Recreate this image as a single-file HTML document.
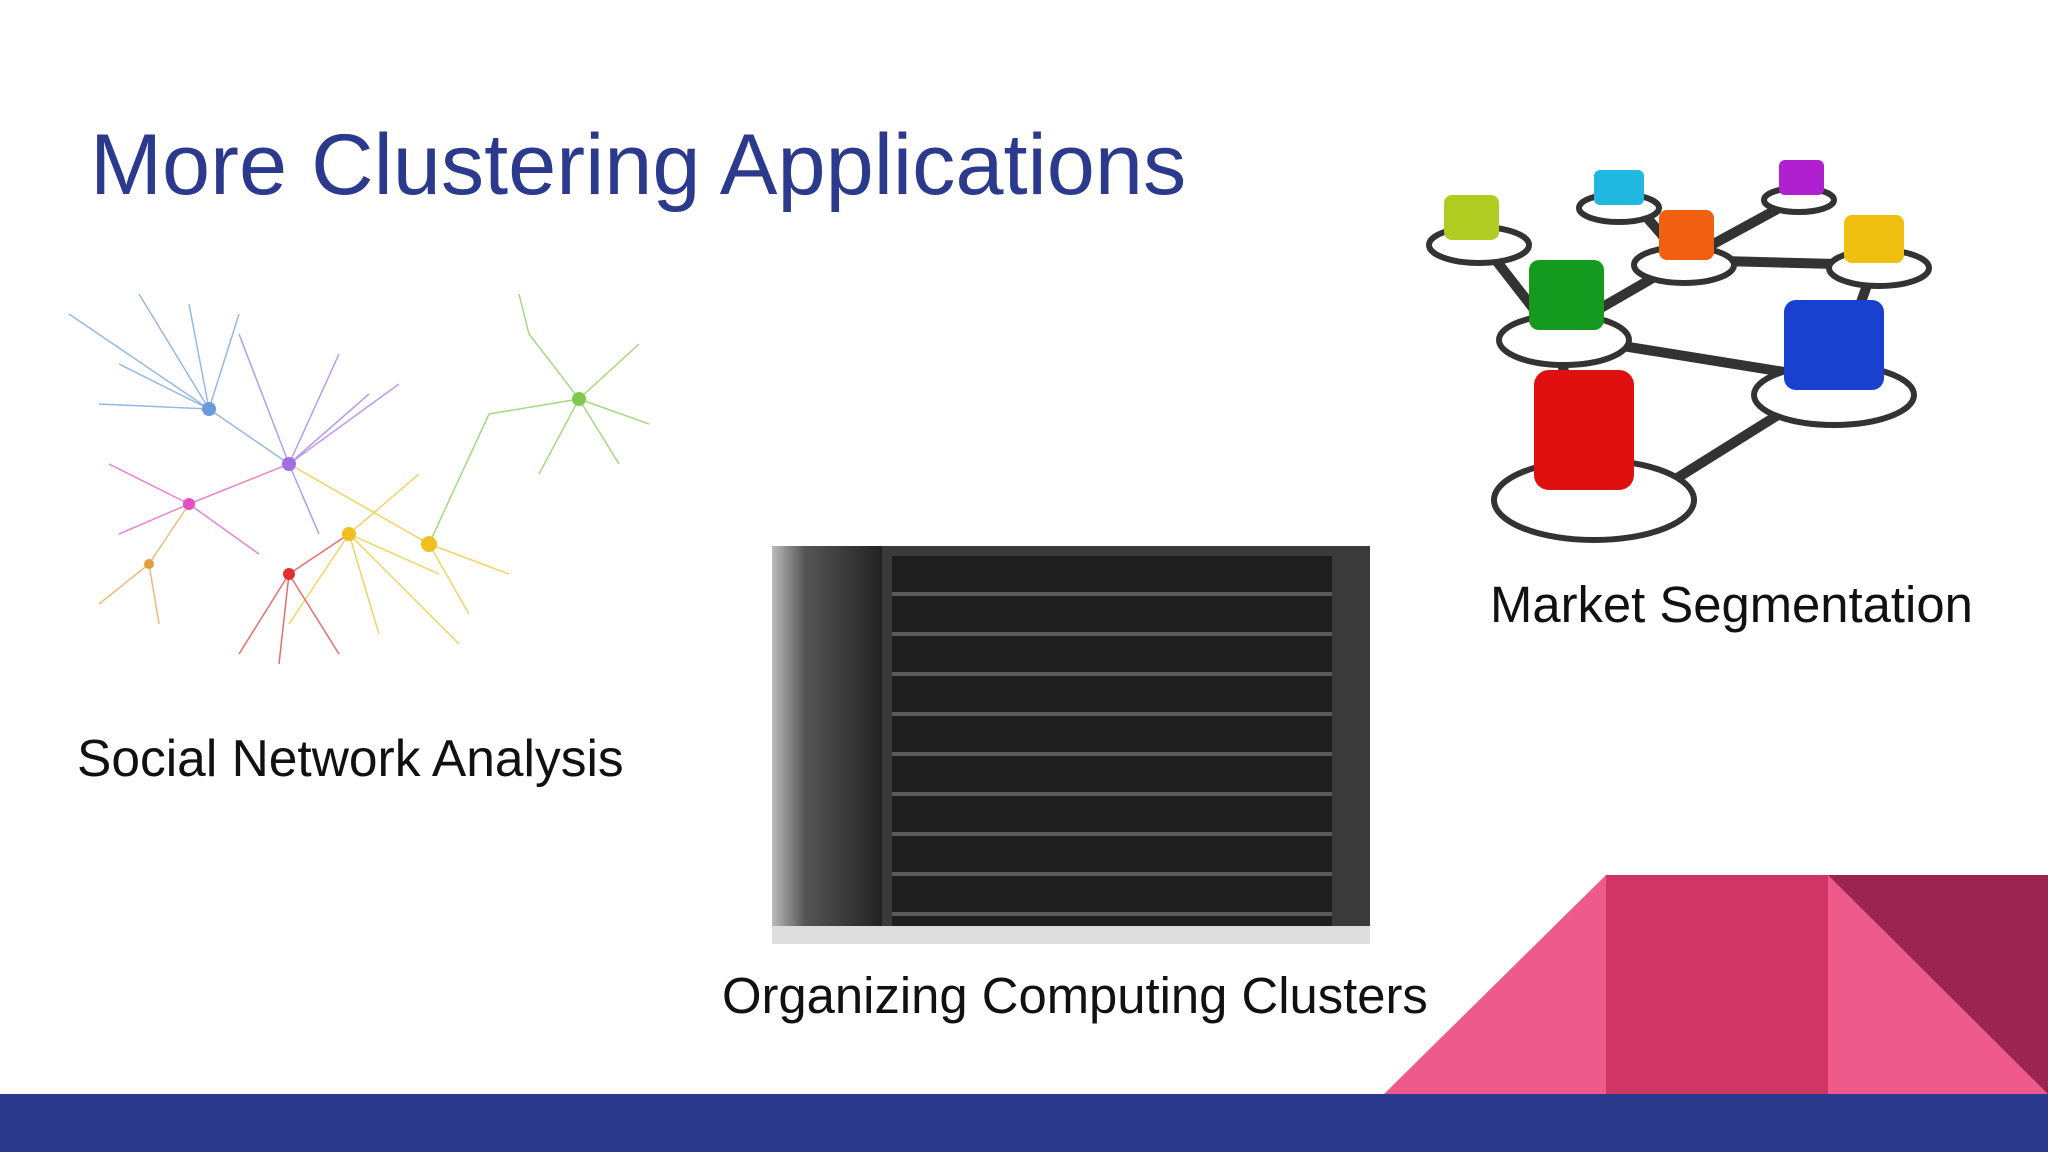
<!DOCTYPE html>
<html><head><meta charset="utf-8"><style>
html,body{margin:0;padding:0}
body{width:2048px;height:1152px;position:relative;overflow:hidden;background:#fff;font-family:"Liberation Sans",sans-serif}
.t{position:absolute;white-space:nowrap;line-height:1}
</style></head><body>
<div class="t" style="left:90px;top:122px;font-size:86.5px;color:#2b3a8c">More Clustering Applications</div>
<div class="t" style="left:77px;top:733px;font-size:51.5px;color:#111">Social Network Analysis</div>
<div class="t" style="left:722px;top:971px;font-size:50.8px;color:#111">Organizing Computing Clusters</div>
<div class="t" style="left:1490px;top:580px;font-size:50.8px;color:#111">Market Segmentation</div>

<!-- network -->
<svg style="position:absolute;left:39px;top:274px" width="640" height="405" viewBox="0 0 640 405">
<g stroke-width="1.5" fill="none" opacity="0.7">
<g stroke="#6a9bd8"><path d="M170 135L30 40M170 135L100 20M170 135L150 30M170 135L200 40M170 135L80 90M170 135L60 130M170 135L250 190"/></g>
<g stroke="#a070e0"><path d="M250 190L300 80M250 190L330 120M250 190L200 60M250 190L280 260M250 190L360 110"/></g>
<g stroke="#e050c0"><path d="M150 230L70 190M150 230L80 260M150 230L250 190M150 230L220 280"/></g>
<g stroke="#f0c020"><path d="M310 260L380 200M310 260L400 300M310 260L340 360M310 260L420 370M390 270L470 300M390 270L430 340M250 190L390 270M310 260L250 350"/></g>
<g stroke="#e03030"><path d="M250 300L200 380M250 300L240 390M250 300L300 380M250 300L310 260"/></g>
<g stroke="#80c850"><path d="M540 125L490 60M540 125L600 70M540 125L610 150M540 125L580 190M540 125L450 140M540 125L500 200M490 60L480 20M450 140L390 270"/></g>
<g stroke="#e0a040"><path d="M110 290L60 330M110 290L120 350M110 290L150 230"/></g>
</g>
<g><circle cx="170" cy="135" r="7" fill="#6a9bd8"/><circle cx="250" cy="190" r="7" fill="#a070e0"/><circle cx="150" cy="230" r="6" fill="#e050c0"/><circle cx="310" cy="260" r="7" fill="#f0c020"/><circle cx="390" cy="270" r="8" fill="#f0c020"/><circle cx="250" cy="300" r="6" fill="#e03030"/><circle cx="540" cy="125" r="7" fill="#80c850"/><circle cx="110" cy="290" r="5" fill="#e0a040"/></g>
</svg>

<!-- server -->
<div style="position:absolute;left:772px;top:546px;width:598px;height:398px;background:#3a3a3a">
 <div style="position:absolute;left:0;top:0;width:110px;height:398px;background:linear-gradient(90deg,#bbb,#555 30%,#222)"></div>
 <div style="position:absolute;left:120px;top:10px;width:440px;height:370px;background:repeating-linear-gradient(180deg,#1e1e1e 0 36px,#5a5a5a 36px 40px)"></div>
 <div style="position:absolute;left:0;top:380px;width:598px;height:18px;background:#ddd"></div>
</div>

<!-- market -->
<svg style="position:absolute;left:1424px;top:150px" width="542" height="400" viewBox="0 0 542 400">
<g stroke="#333" stroke-width="10" fill="none"><path d="M60 95L130 185L170 330M130 185L260 110L190 30M260 110L370 50M260 110L450 115L410 230L250 330M130 185L410 230"/></g>
<g fill="#fff" stroke="#333" stroke-width="6">
<ellipse cx="170" cy="350" rx="100" ry="40"/><ellipse cx="410" cy="245" rx="80" ry="30"/><ellipse cx="140" cy="190" rx="65" ry="25"/><ellipse cx="260" cy="115" rx="50" ry="18"/><ellipse cx="55" cy="95" rx="50" ry="18"/><ellipse cx="455" cy="118" rx="50" ry="18"/><ellipse cx="195" cy="58" rx="40" ry="14"/><ellipse cx="375" cy="50" rx="35" ry="12"/></g>
<g><rect x="110" y="220" width="100" height="120" rx="15" fill="#e01010"/><rect x="360" y="150" width="100" height="90" rx="12" fill="#1a40d0"/><rect x="105" y="110" width="75" height="70" rx="10" fill="#159a20"/><rect x="235" y="60" width="55" height="50" rx="8" fill="#f06010"/><rect x="20" y="45" width="55" height="45" rx="8" fill="#b0cc20"/><rect x="420" y="65" width="60" height="48" rx="8" fill="#f0c010"/><rect x="170" y="20" width="50" height="35" rx="6" fill="#20b8e0"/><rect x="355" y="10" width="45" height="35" rx="6" fill="#b020d0"/></g>
</svg>

<!-- decorations -->
<svg style="position:absolute;left:0;top:0" width="2048" height="1152">
<polygon points="1384,1094 1606,875 1606,1094" fill="#ee5a8c"/>
<rect x="1606" y="875" width="222" height="219" fill="#d13566"/>
<rect x="1828" y="875" width="220" height="219" fill="#9c2550"/>
<polygon points="1828,875 2048,1094 1828,1094" fill="#ee5a8c"/>
<rect x="0" y="1094" width="2048" height="58" fill="#2b3a8c"/>
</svg>
</body></html>
